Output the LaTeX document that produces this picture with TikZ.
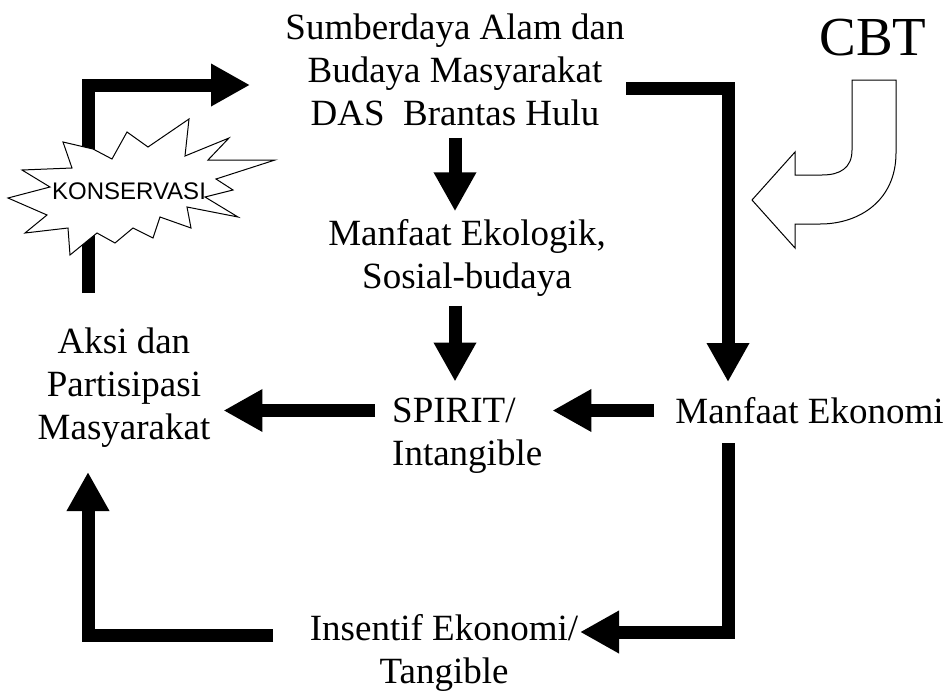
\documentclass[tikz,border=0pt]{standalone}
\usepackage{fontspec}
\setmainfont{Liberation Serif}
\newfontfamily\konsfont{Liberation Sans}
\usetikzlibrary{arrows.meta}

\tikzset{
  fat/.style={line width=13pt, line join=miter, -{Triangle[width=40pt,length=39pt]}},
  teks/.style={align=center, inner sep=0pt, font=\fontsize{37}{43}\selectfont},
  outline/.style={fill=white, line width=1pt, line join=miter},
}

\begin{document}
\begin{tikzpicture}[x=1pt,y=-1pt]
             \useasboundingbox (0,0) rectangle (950,694);

             % texts
             \node[teks] (sumber) at (455,69.5) {Sumberdaya Alam dan\\Budaya Masyarakat\\DAS\ \ Brantas Hulu};
             \node[teks] (eko) at (467,258) {Manfaat Ekologik,\\Sosial-budaya};
             \node[teks, align=left, anchor=west] (spirit) at (392,435.5) {SPIRIT/\\Intangible};
             \node[teks] (aksi) at (124,388) {Aksi dan\\Partisipasi\\Masyarakat};
             \node[teks] (manek) at (809.5,410.5) {Manfaat Ekonomi};
             \node[teks] (insen) at (444,652.5) {Insentif Ekonomi/\\Tangible};
             \node[inner sep=0pt, font=\fontsize{55}{60}\selectfont] (cbt) at (873,38) {CBT};

             % corners and free ends
             \coordinate (konsA) at (88,293);
             \coordinate (konsB) at (250,85);
             \coordinate (sdaA) at (626,88);
             \coordinate (sdaB) at (728,382);
             \coordinate (ekA) at (728,443);
             \coordinate (ekB) at (580,632);
             \coordinate (inA) at (273,635);
             \coordinate (inB) at (88,472);

             % black arrows
             \draw[fat] (konsA) |- (konsB);
             \draw[fat] (sdaA) -| (sdaB);
             \draw[fat, shorten <=12pt, shorten >=8pt] (sumber.south) -- (sumber.south |- eko.north);
             \draw[fat, shorten <=9pt, shorten >=16pt] (eko.south -| sumber.south) -- (spirit.north -| sumber.south);
             \draw[fat, shorten <=21pt, shorten >=10pt] (manek.west) -- (manek.west -| spirit.east);
             \draw[fat, shorten <=17pt, shorten >=13pt] (spirit.west |- manek.west) -- (aksi.east |- manek.west);
             \draw[fat] (ekA) |- (ekB);
             \draw[fat] (inA) -| (inB);

             % starburst
             \draw[outline] (8,198) -- (50,187) -- (22,170) -- (72,168)
                -- (63,142) -- (93,149) -- (112,159) -- (127,132) -- (148,147) -- (189,119)
                -- (185,156) -- (229,138) -- (208,160) -- (275,160) -- (216,179) -- (233,190)
                -- (205,197) -- (238,217) -- (187,207) -- (191,228) -- (160,217) -- (153,238)
                -- (133,228) -- (115,243) -- (97,233) -- (70,255) -- (68,228) -- (25,233)
                -- (47,215) -- cycle;
             \node[inner sep=0pt, font=\konsfont\fontsize{24}{27}\selectfont] (kons) at (129,191) {KONSERVASI};

             % white curved arrow
             \draw[outline] (852,80) -- (896,80) -- (896,153)
                .. controls (896,200) and (860,224) .. (820,224) -- (795,224) -- (795,248)
                -- (752,200) -- (795,152) -- (795,175) -- (822,175)
                .. controls (840,175) and (852,168) .. (852,150) -- cycle;
\end{tikzpicture}
\end{document}
